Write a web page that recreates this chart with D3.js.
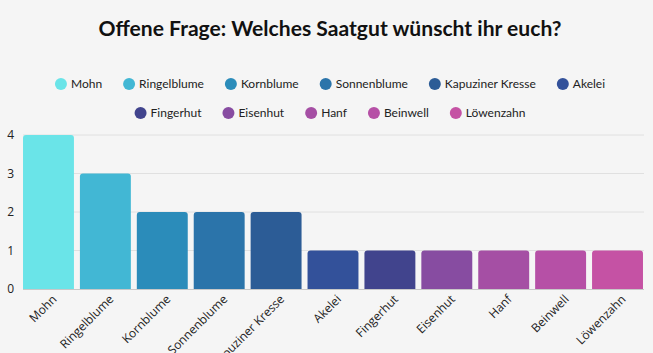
<!DOCTYPE html>
<html lang="de">
<head>
  <meta charset="UTF-8">
  <title>Saatgut</title>
  <script src="https://d3js.org/d3.v7.min.js"></script>
  <style>
    body { margin: 0; background: #f5f5f5; }
    svg { display: block; }
    .title { font-family: Lato, sans-serif; font-weight: 700; font-size: 21px; fill: #111; text-anchor: middle; }
    .legend text { font-family: Lato, sans-serif; font-size: 12px; fill: #222; }
    .axis text { font-family: "Open Sans", sans-serif; font-size: 12px; fill: #222; }
  </style>
</head>
<body>
  <svg width="653" height="353"></svg>
  <script>
    const categories = ["Mohn", "Ringelblume", "Kornblume", "Sonnenblume", "Kapuziner Kresse", "Akelei",
      "Fingerhut", "Eisenhut", "Hanf", "Beinwell", "Löwenzahn"];
    const values = [4, 3, 2, 2, 2, 1, 1, 1, 1, 1, 1];
    const colors = ["#6ae4e8", "#42b7d4", "#2b8cba", "#2b74aa", "#2c5c96", "#33519a",
      "#41448d", "#874ca1", "#a54fa4", "#b650a6", "#c552a4"];
    const yTicks = [0, 1, 2, 3, 4];
    const legendRows = [categories.slice(0, 6), categories.slice(6)];

    const svg = d3.select("svg");

    svg.append("text").attr("class", "title")
      .attr("x", 330).attr("y", 36)
      .attr("textLength", 463).attr("lengthAdjust", "spacingAndGlyphs")
      .text("Offene Frage: Welches Saatgut wünscht ihr euch?");

    // Legende
    const color = d3.scaleOrdinal().domain(categories).range(colors);
    legendRows.forEach((row, i) => {
      const g = svg.append("g").attr("class", "legend");
      let xpos = 0;
      row.forEach(name => {
        const item = g.append("g").attr("transform", `translate(${xpos},0)`);
        item.append("circle").attr("r", 6).attr("cx", 6).attr("fill", color(name));
        const t = item.append("text").attr("x", 16).attr("dy", "0.35em").text(name);
        xpos += 16 + t.node().getComputedTextLength() + 21;
      });
      const total = xpos - 21;
      g.attr("transform", `translate(${330 - total / 2},${84 + i * 29})`);
    });

    const x = d3.scaleBand().domain(categories).range([20, 646])
      .paddingInner(0.105).paddingOuter(0.053);
    const y = d3.scaleLinear().domain([0, 4]).range([289, 135]);

    // Gitterlinien
    svg.append("g").selectAll("line").data(yTicks.slice(1)).join("line")
      .attr("x1", 23).attr("x2", 644)
      .attr("y1", d => y(d)).attr("y2", d => y(d))
      .attr("stroke", "#e0e0e0").attr("stroke-width", 1);

    // Balken
    svg.append("g").selectAll("path").data(categories).join("path")
      .attr("fill", d => color(d))
      .attr("d", (d, i) => {
        const x0 = x(d), w = x.bandwidth(), y0 = y(values[i]), y1 = y(0), r = 3;
        return `M${x0},${y1}V${y0 + r}Q${x0},${y0} ${x0 + r},${y0}H${x0 + w - r}Q${x0 + w},${y0} ${x0 + w},${y0 + r}V${y1}Z`;
      });

    // y-Achse
    svg.append("g").attr("class", "axis")
      .attr("transform", "translate(14,0)")
      .call(d3.axisLeft(y).tickValues(yTicks).tickSize(0).tickFormat(d3.format("d")))
      .call(g => g.select(".domain").remove())
      .selectAll("text").attr("x", 0).style("text-anchor", "end");

    // x-Achse
    svg.append("g").attr("class", "axis")
      .attr("transform", `translate(0,${y(0)})`)
      .call(d3.axisBottom(x).tickSize(0))
      .call(g => g.select(".domain").attr("stroke", "#c8c8c8").attr("d", "M23,0.5H644"))
      .selectAll("text")
      .attr("transform", "translate(6,8) rotate(-45)")
      .attr("x", 0).attr("y", 0).attr("dy", "0.35em")
      .style("text-anchor", "end");
  </script>
</body>
</html>
